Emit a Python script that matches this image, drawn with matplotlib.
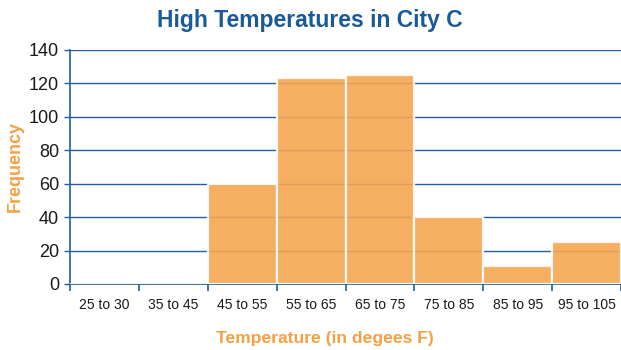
import matplotlib.pyplot as plt
import numpy as np

categories = ["25 to 30", "35 to 45", "45 to 55", "55 to 65",
              "65 to 75", "75 to 85", "85 to 95", "95 to 105"]
frequency = [0, 0, 60, 123, 125, 40, 11, 25]
y_ticks = [0, 20, 40, 60, 80, 100, 120, 140]

blue = "#1f5f9c"
orange = "#f5a550"
label_orange = "#f5a043"

plt.rcParams['font.family'] = ['Liberation Sans', 'DejaVu Sans']

fig = plt.figure(figsize=(6.21, 3.5), dpi=100)
ax = fig.add_axes([70 / 621, 1 - 284 / 350, 551 / 621, 234 / 350])

x = np.arange(len(categories))
ax.set_axisbelow(True)
ax.yaxis.grid(True, color=blue, linewidth=1.0)
ax.bar(x, frequency, width=1.0, color=orange, alpha=0.9,
       edgecolor="white", linewidth=1.6, zorder=3)

ax.set_xlim(-0.5, len(categories) - 0.5)
ax.set_ylim(0, 140)
ax.set_yticks(y_ticks)
ax.tick_params(axis='y', colors=blue, labelcolor="#1a1a1a", labelsize=13,
               length=4, width=1, pad=4)

ax.set_xticks(x)
ax.set_xticklabels(categories)
ax.tick_params(axis='x', which='major', length=0, labelsize=10,
               labelcolor="#1a1a1a", pad=10)
ax.set_xticks(np.arange(len(categories) + 1) - 0.5, minor=True)
ax.tick_params(axis='x', which='minor', colors=blue, length=5, width=1.2)

for side in ("top", "right"):
    ax.spines[side].set_visible(False)
for side in ("left", "bottom"):
    ax.spines[side].set_color(blue)
    ax.spines[side].set_linewidth(1.2)

fig.text(15 / 621, 1 - 166 / 350, "Frequency", color=label_orange,
         fontsize=13, fontweight="bold", rotation=90,
         ha="center", va="center")
fig.text(325 / 621, 1 - 338 / 350, "Temperature (in degees F)",
         color=label_orange, fontsize=12.6, fontweight="bold",
         ha="center", va="center")
fig.text(310 / 621, 1 - 20 / 350, "High Temperatures in City C",
         color="#1a5a98", fontsize=16.5, fontweight="bold",
         ha="center", va="center")

fig.savefig("out.png", dpi=100)
